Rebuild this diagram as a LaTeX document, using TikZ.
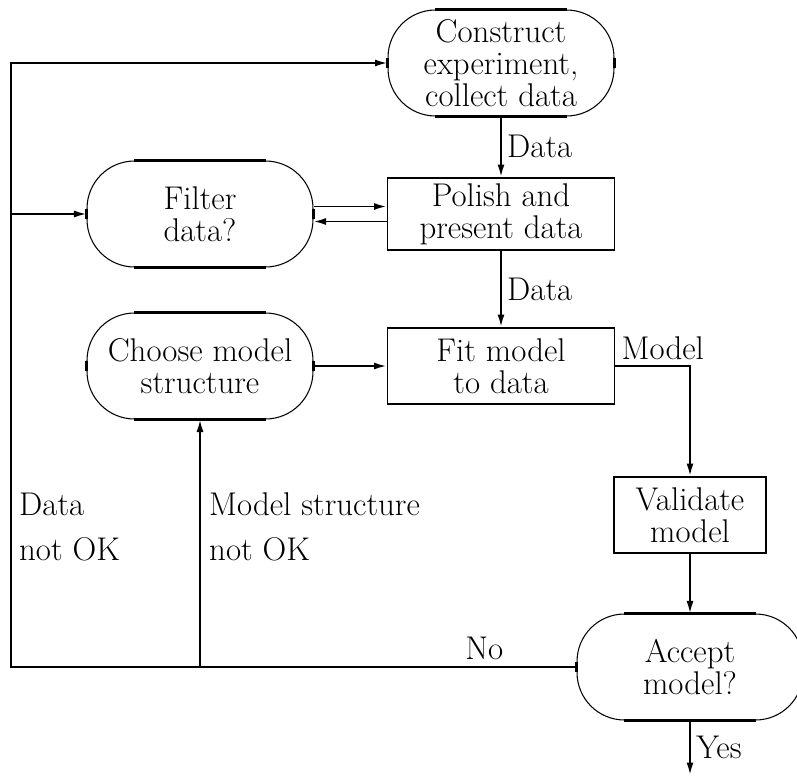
\documentclass[tikz,border=0pt]{standalone}
\usetikzlibrary{arrows.meta}
\tikzset{
  every node/.style={font=\fontsize{18.7}{18.2}\selectfont},
  flow/.style={line width=1.1pt, -{Latex[length=0.25cm,width=0.14cm]}},
  box/.style={draw, line width=1.1pt, align=center, inner sep=0pt},
  oval/.style={draw, line width=0.6pt, rounded corners=0.95cm, align=center,
    minimum width=4.52cm, minimum height=2.12cm, inner sep=0pt},
  flat/.style={line width=1.7pt},
}

\begin{document}
\begin{tikzpicture}[x=0.02cm,y=-0.02cm]
      \useasboundingbox (0,0) rectangle (797,781);

      % Nodes
      \node[oval] (construct) at (501,63) {Construct\\experiment,\\collect data};
      \node[box, minimum width=4.54cm, minimum height=1.44cm] (polish) at (501,214) {Polish and\\present data};
      \node[oval] (filter) at (200,214) {Filter\\data?};
      \node[box, minimum width=4.54cm, minimum height=1.52cm] (fit) at (501,366) {Fit model\\to data};
      \node[oval] (choose) at (200,366) {Choose model\\structure};
      \node[box, minimum width=3.04cm, minimum height=1.52cm] (validate) at (690,515) {Validate\\model};
      \node[oval] (accept) at (690,667) {Accept\\model?};

      % Straight parts of the ovals
      \foreach \n in {construct,filter,choose,accept} {
          \draw[flat] ([xshift=0.95cm]\n.north west) -- ([xshift=-0.95cm]\n.north east);
          \draw[flat] ([xshift=0.95cm]\n.south west) -- ([xshift=-0.95cm]\n.south east);
          \draw[flat] ([yshift=0.1cm]\n.west) -- ([yshift=-0.1cm]\n.west);
          \draw[flat] ([yshift=0.1cm]\n.east) -- ([yshift=-0.1cm]\n.east);
      }

      \coordinate (lt) at (11,63);
      \coordinate (lb) at (11,667);
      \coordinate (mb) at (200,667);
      \coordinate (out) at (690,775);

      % Main flow
      \draw[flow] (construct) -- node[right, inner sep=3pt] {Data} (polish);
      \draw[flow] (polish) -- node[right, inner sep=3pt] {Data} (fit);
      \draw[flow] ([yshift=0.15cm]filter.east) -- ([yshift=0.15cm]polish.west);
      \draw[flow] ([yshift=-0.15cm]polish.west) -- ([yshift=-0.15cm]filter.east);
      \draw[flow] (choose) -- (fit);
      \draw[flow] (fit.east) node[above right, inner sep=3pt] {Model} -| (validate.north);
      \draw[flow] (validate) -- (accept);
      \draw[flow] (accept) -- node[right, inner sep=3pt] {Yes} (out);

      % Feedback
      \draw[flow] (accept.west) -- node[above, pos=0.163] {No} (lb) -- (lt) -- (construct.west);
      \draw[flow] (lb |- filter) -- (filter.west);
      \draw[flow] (mb) -- (choose.south);

      % Labels
      \node[anchor=west, align=left] (dnok) at (13,527) {Data\\[0.25cm]not OK};
      \node[anchor=west, align=left] (msnok) at (203,527) {Model structure\\[0.25cm]not OK};
    \end{tikzpicture}
\end{document}
